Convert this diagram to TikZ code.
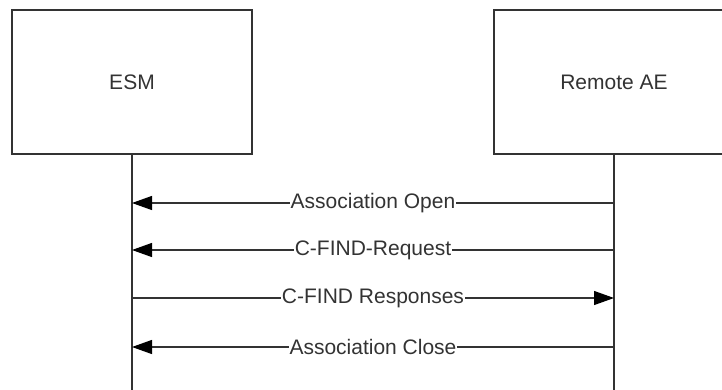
\documentclass[tikz,border=0pt]{standalone}
\usepackage{fontspec}
\setmainfont{Liberation Sans}
\usetikzlibrary{arrows.meta}

\definecolor{linegray}{HTML}{333333}

\begin{document}
\begin{tikzpicture}[x=1pt, y=-1pt,
  actor/.style={draw=linegray, line width=1.3pt, minimum width=240pt, minimum height=144pt,
    inner sep=0pt, text=linegray, font=\fontsize{21}{24}\selectfont},
  life/.style={draw=linegray, line width=1.2pt},
  msg/.style={draw=linegray, line width=1.2pt,
    -{Triangle[length=20pt,width=14pt,fill=black,color=black]}},
  msglabel/.style={fill=white, inner sep=1pt, text=linegray, font=\fontsize{21}{24}\selectfont}]

\clip (0,0) rectangle (722,389);

% the two actors
\node[actor] (ESM) at (132,82) {ESM};
\node[actor] (RAE) at (614,82) {Remote AE};

% lifelines
\coordinate (ESM_end) at (132,392);
\coordinate (RAE_end) at (614,392);
\draw[life] (ESM.south) -- (ESM_end);
\draw[life] (RAE.south) -- (RAE_end);

% message points on the lifelines
\coordinate (ESM_1) at (132,203);
\coordinate (RAE_1) at (614,203);
\coordinate (ESM_2) at (132,250);
\coordinate (RAE_2) at (614,250);
\coordinate (ESM_3) at (132,298);
\coordinate (RAE_3) at (614,298);
\coordinate (ESM_4) at (132,347);
\coordinate (RAE_4) at (614,347);

% messages
\draw[msg] (RAE_1) -- node[msglabel]{Association Open} (ESM_1);
\draw[msg] (RAE_2) -- node[msglabel]{C-FIND-Request} (ESM_2);
\draw[msg] (ESM_3) -- node[msglabel]{C-FIND Responses} (RAE_3);
\draw[msg] (RAE_4) -- node[msglabel]{Association Close} (ESM_4);

\end{tikzpicture}
\end{document}
